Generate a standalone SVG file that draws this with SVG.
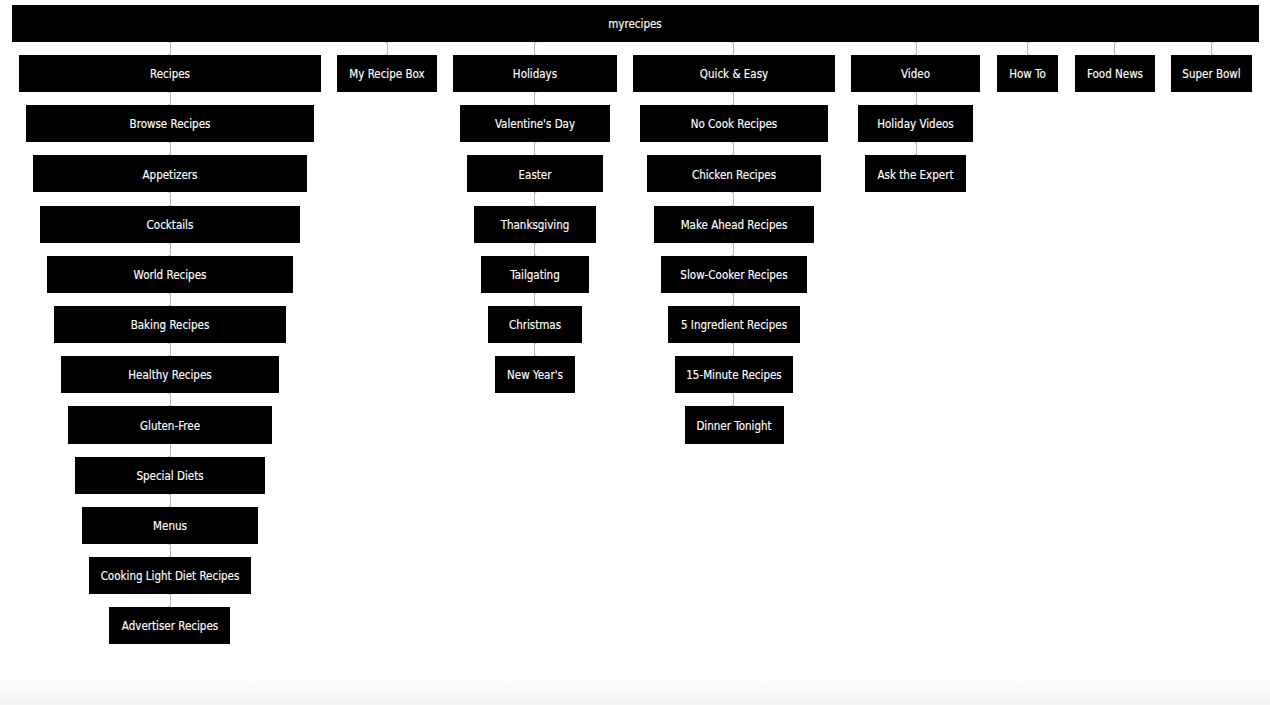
<svg xmlns="http://www.w3.org/2000/svg" width="1270" height="705" viewBox="0 0 1270 705">
<defs>
<linearGradient id="bg" x1="0" y1="0" x2="0" y2="1">
<stop offset="0" stop-color="#ffffff"/>
<stop offset="1" stop-color="#f3f3f3"/>
</linearGradient>
<style>
.n rect{fill:#000}
.n text{fill:#fff;font-family:"DejaVu Sans Condensed","DejaVu Sans",sans-serif;font-stretch:condensed;font-size:11.5px;text-anchor:middle;stroke:#fff;stroke-width:0.15}
#connectors path{fill:none;stroke:#b8b8b8;stroke-width:1}
</style>
</defs>
<rect x="0" y="0" width="1270" height="705" fill="#fff"/>
<rect x="0" y="678" width="1270" height="27" fill="url(#bg)"/>
<g id="connectors">
<path d="M168.5 42.5H170.5V54.5H168.5"/>
<path d="M385.5 42.5H387.5V54.5H385.5"/>
<path d="M536.5 42.5H534.5V54.5H536.5"/>
<path d="M731.5 42.5H733.5V54.5H731.5"/>
<path d="M914.5 42.5H916.5V54.5H914.5"/>
<path d="M1029.5 42.5H1027.5V54.5H1029.5"/>
<path d="M1116.5 42.5H1114.5V54.5H1116.5"/>
<path d="M1213.5 42.5H1211.5V54.5H1213.5"/>
<path d="M168.5 92.5H170.5V104.5H168.5"/>
<path d="M168.5 142.5H170.5V154.5H168.5"/>
<path d="M168.5 192.5H170.5V205.5H168.5"/>
<path d="M168.5 243.5H170.5V255.5H168.5"/>
<path d="M168.5 293.5H170.5V305.5H168.5"/>
<path d="M168.5 343.5H170.5V355.5H168.5"/>
<path d="M168.5 393.5H170.5V405.5H168.5"/>
<path d="M168.5 443.5H170.5V456.5H168.5"/>
<path d="M168.5 494.5H170.5V506.5H168.5"/>
<path d="M168.5 544.5H170.5V556.5H168.5"/>
<path d="M168.5 594.5H170.5V606.5H168.5"/>
<path d="M536.5 92.5H534.5V104.5H536.5"/>
<path d="M536.5 142.5H534.5V154.5H536.5"/>
<path d="M536.5 192.5H534.5V205.5H536.5"/>
<path d="M536.5 243.5H534.5V255.5H536.5"/>
<path d="M536.5 293.5H534.5V305.5H536.5"/>
<path d="M536.5 343.5H534.5V355.5H536.5"/>
<path d="M731.5 92.5H733.5V104.5H731.5"/>
<path d="M731.5 142.5H733.5V154.5H731.5"/>
<path d="M731.5 192.5H733.5V205.5H731.5"/>
<path d="M731.5 243.5H733.5V255.5H731.5"/>
<path d="M731.5 293.5H733.5V305.5H731.5"/>
<path d="M731.5 343.5H733.5V355.5H731.5"/>
<path d="M731.5 393.5H733.5V405.5H731.5"/>
<path d="M914.5 92.5H916.5V104.5H914.5"/>
<path d="M914.5 142.5H916.5V154.5H914.5"/>
</g>
<g id="root" class="n"><rect x="12" y="5" width="1247" height="37"/><text x="635" y="28">myrecipes</text></g>
<g id="recipes" class="n"><rect x="19" y="55" width="302" height="37"/><text x="170" y="78">Recipes</text></g>
<g id="browse" class="n"><rect x="26" y="105" width="288" height="37"/><text x="170" y="128">Browse Recipes</text></g>
<g id="appetizers" class="n"><rect x="33" y="155" width="274" height="37"/><text x="170" y="179">Appetizers</text></g>
<g id="cocktails" class="n"><rect x="40" y="206" width="260" height="37"/><text x="170" y="229">Cocktails</text></g>
<g id="world" class="n"><rect x="47" y="256" width="246" height="37"/><text x="170" y="279">World Recipes</text></g>
<g id="baking" class="n"><rect x="54" y="306" width="232" height="37"/><text x="170" y="329">Baking Recipes</text></g>
<g id="healthy" class="n"><rect x="61" y="356" width="218" height="37"/><text x="170" y="379">Healthy Recipes</text></g>
<g id="gluten" class="n"><rect x="68" y="406" width="204" height="38"/><text x="170" y="430">Gluten-Free</text></g>
<g id="special" class="n"><rect x="75" y="457" width="190" height="37"/><text x="170" y="480">Special Diets</text></g>
<g id="menus" class="n"><rect x="82" y="507" width="176" height="37"/><text x="170" y="530">Menus</text></g>
<g id="cookinglight" class="n"><rect x="89" y="557" width="162" height="37"/><text x="170" y="580">Cooking Light Diet Recipes</text></g>
<g id="advertiser" class="n"><rect x="109" y="607" width="121" height="37"/><text x="170" y="630">Advertiser Recipes</text></g>
<g id="myrecipebox" class="n"><rect x="337" y="55" width="100" height="37"/><text x="387" y="78">My Recipe Box</text></g>
<g id="holidays" class="n"><rect x="453" y="55" width="164" height="37"/><text x="535" y="78">Holidays</text></g>
<g id="valentines" class="n"><rect x="460" y="105" width="150" height="37"/><text x="535" y="128">Valentine's Day</text></g>
<g id="easter" class="n"><rect x="467" y="155" width="136" height="37"/><text x="535" y="179">Easter</text></g>
<g id="thanksgiving" class="n"><rect x="474" y="206" width="122" height="37"/><text x="535" y="229">Thanksgiving</text></g>
<g id="tailgating" class="n"><rect x="481" y="256" width="108" height="37"/><text x="535" y="279">Tailgating</text></g>
<g id="christmas" class="n"><rect x="488" y="306" width="94" height="37"/><text x="535" y="329">Christmas</text></g>
<g id="newyears" class="n"><rect x="495" y="356" width="80" height="37"/><text x="535" y="379">New Year's</text></g>
<g id="quickeasy" class="n"><rect x="633" y="55" width="202" height="37"/><text x="734" y="78">Quick &amp; Easy</text></g>
<g id="nocook" class="n"><rect x="640" y="105" width="188" height="37"/><text x="734" y="128">No Cook Recipes</text></g>
<g id="chicken" class="n"><rect x="647" y="155" width="174" height="37"/><text x="734" y="179">Chicken Recipes</text></g>
<g id="makeahead" class="n"><rect x="654" y="206" width="160" height="37"/><text x="734" y="229">Make Ahead Recipes</text></g>
<g id="slowcooker" class="n"><rect x="661" y="256" width="146" height="37"/><text x="734" y="279">Slow-Cooker Recipes</text></g>
<g id="fiveingredient" class="n"><rect x="668" y="306" width="132" height="37"/><text x="734" y="329">5 Ingredient Recipes</text></g>
<g id="fifteenminute" class="n"><rect x="675" y="356" width="118" height="37"/><text x="734" y="379">15-Minute Recipes</text></g>
<g id="dinnertonight" class="n"><rect x="685" y="406" width="99" height="38"/><text x="734" y="430">Dinner Tonight</text></g>
<g id="video" class="n"><rect x="851" y="55" width="129" height="37"/><text x="915.5" y="78">Video</text></g>
<g id="holidayvideos" class="n"><rect x="858" y="105" width="115" height="37"/><text x="915.5" y="128">Holiday Videos</text></g>
<g id="asktheexpert" class="n"><rect x="865" y="155" width="101" height="37"/><text x="915.5" y="179">Ask the Expert</text></g>
<g id="howto" class="n"><rect x="997" y="55" width="61" height="37"/><text x="1027.5" y="78">How To</text></g>
<g id="foodnews" class="n"><rect x="1075" y="55" width="80" height="37"/><text x="1115" y="78">Food News</text></g>
<g id="superbowl" class="n"><rect x="1171" y="55" width="81" height="37"/><text x="1211.5" y="78">Super Bowl</text></g>
</svg>
